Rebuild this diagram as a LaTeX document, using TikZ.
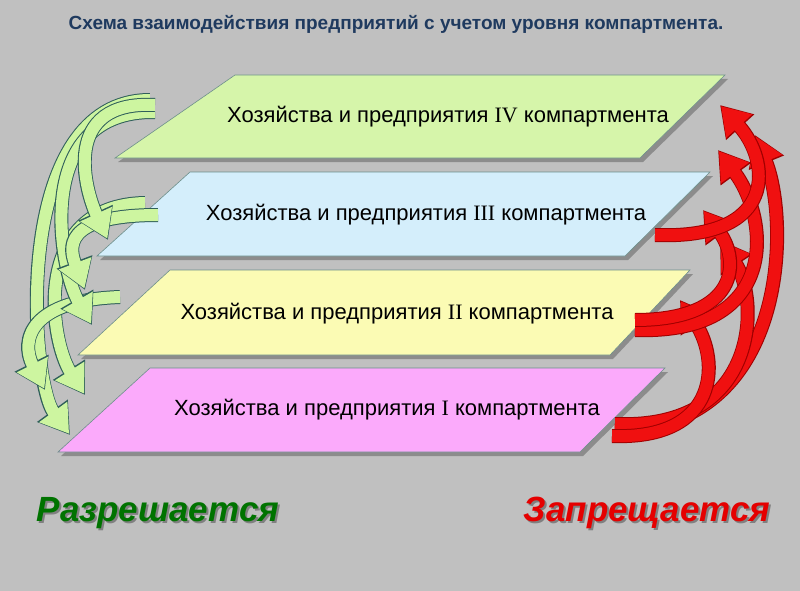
\documentclass[tikz,border=0pt]{standalone}
\usepackage{fontspec}
\setmainfont{Liberation Sans}
\newfontfamily\rmn{Liberation Serif}
\usetikzlibrary{arrows.meta}
\definecolor{bg}{HTML}{C0C0C0}
\definecolor{gfill}{HTML}{CDF5A0}
\definecolor{gdark}{HTML}{2F5F5A}
\definecolor{rfill}{HTML}{F01010}
\definecolor{rdark}{HTML}{A00000}
\definecolor{p4}{HTML}{D6F5AA}
\definecolor{p3}{HTML}{D4EEFB}
\definecolor{p2}{HTML}{FBFBB4}
\definecolor{p1}{HTML}{FBAAFB}
\definecolor{navy}{HTML}{1F3A5F}
\newcommand\myarrow[6]{%
 \draw[line width=14pt,draw=#6,-{Triangle[length=30pt,width=36pt]}] #1 .. controls #2 and #3 .. #4;
 \draw[line width=12pt,draw=#5,-{Triangle[length=27pt,width=33pt]},shorten >=1.5pt] #1 .. controls #2 and #3 .. #4;}
\tikzset{plane/.style={draw=gdark!70,line width=0.6pt},
 shad/.style={fill=black!45},
 ptext/.style={font=\fontsize{22}{24}\selectfont},
 big/.style={font=\fontsize{35}{38}\selectfont\bfseries\itshape}}
\begin{document}
\begin{tikzpicture}[x=1pt,y=-1pt]
\fill[bg] (0,0) rectangle (800,591);
\useasboundingbox (0,0) rectangle (800,591);
\node[font=\fontsize{19}{21}\selectfont\bfseries,text=navy] (title) at (396,24) {Схема взаимодействия предприятий с учетом уровня компартмента.};
% planes
\foreach \t/\b/\tl/\tr/\bl/\br/\c in {75/158/235/725/115/640/p4,172/256/190/710/97/625/p3,270/355/170/690/78/610/p2,368/452/150/665/58/580/p1}{
 \fill[shad] (\tl+3,\t+4) -- (\tr+3,\t+4) -- (\br+3,\b+4) -- (\bl+3,\b+4) -- cycle;
 \filldraw[plane,fill=\c] (\tl,\t) -- (\tr,\t) -- (\br,\b) -- (\bl,\b) -- cycle;}
\node[ptext] (n4) at (448,117) {Хозяйства и предприятия {\rmn IV} компартмента};
\node[ptext] (n3) at (426,215) {Хозяйства и предприятия {\rmn III} компартмента};
\node[ptext] (n2) at (397,314) {Хозяйства и предприятия {\rmn II} компартмента};
\node[ptext] (n1) at (387,410) {Хозяйства и предприятия {\rmn I} компартмента};
% green arrows
\myarrow{(150,100)}{(10,100)}{(30,380)}{(70,435)}{gfill}{gdark}
\myarrow{(145,203)}{(30,205)}{(50,340)}{(85,395)}{gfill}{gdark}
\myarrow{(120,297)}{(30,300)}{(20,340)}{(45,390)}{gfill}{gdark}
\myarrow{(155,112)}{(30,110)}{(60,270)}{(92,325)}{gfill}{gdark}
\myarrow{(158,215)}{(60,215)}{(70,250)}{(85,290)}{gfill}{gdark}
\myarrow{(155,105)}{(60,100)}{(85,190)}{(108,240)}{gfill}{gdark}
% red arrows
\myarrow{(615,430)}{(790,430)}{(790,220)}{(755,135)}{rfill}{rdark}
\myarrow{(615,424)}{(760,430)}{(760,300)}{(720,240)}{rfill}{rdark}
\myarrow{(612,436)}{(720,440)}{(720,360)}{(680,300)}{rfill}{rdark}
\myarrow{(635,330)}{(780,335)}{(770,220)}{(718,150)}{rfill}{rdark}
\myarrow{(635,320)}{(740,320)}{(740,260)}{(703,210)}{rfill}{rdark}
\myarrow{(655,235)}{(780,240)}{(770,160)}{(720,105)}{rfill}{rdark}
% captions
\node[big,text=black!50] at (160,515) {Разрешается};
\node[big,text=green!45!black] (yes) at (158,513) {Разрешается};
\node[big,text=black!50] at (649,515) {Запрещается};
\node[big,text=red!90!black] (no) at (647,513) {Запрещается};
\end{tikzpicture}
\end{document}
